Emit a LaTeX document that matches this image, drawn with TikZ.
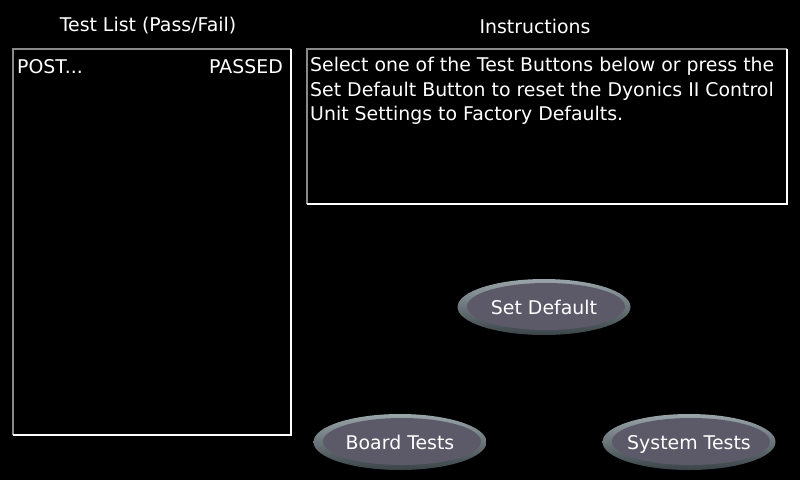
\documentclass[tikz,border=0pt]{standalone}
\usepackage{fontspec}
\setmainfont{DejaVu Sans}
\usetikzlibrary{shapes.geometric}
\definecolor{btnfill}{HTML}{5C5A68}
\definecolor{rimlight}{HTML}{9AA5AA}
\definecolor{rimdark}{HTML}{3A4448}
\definecolor{frameg}{HTML}{8A8A8A}
\tikzset{
  txt/.style={text=white, font=\fontsize{18.9}{24.6}\selectfont, inner sep=0pt},
  btntext/.style={text=white, font=\fontsize{18.9}{22}\selectfont, inner sep=0pt, anchor=base},
  rim/.style={ellipse, minimum width=173pt, minimum height=56pt, inner sep=0pt,
     top color=rimlight, bottom color=rimdark, draw=none},
  face/.style={ellipse, minimum width=158pt, minimum height=47pt, inner sep=0pt,
     fill=btnfill, draw=none},
  darkedge/.style={draw=frameg, line width=2pt},
  lightedge/.style={draw=white, line width=2.5pt}
}
\begin{document}
\begin{tikzpicture}[x=1pt,y=-1pt]
\fill[black] (0,0) rectangle (800,480);
\useasboundingbox (0,0) rectangle (800,480);
% titles
\node[txt] (t1) at (148,26) {Test List (Pass/Fail)};
\node[txt] (t2) at (535,26) {Instructions};
% left box
\coordinate (la) at (13,49);
\coordinate (lb) at (291,435);
\draw[darkedge] (la |- lb) -- (la) -- (la -| lb);
\draw[lightedge] (la -| lb) -- (lb) -- (la |- lb);
% right box
\coordinate (ra) at (307,49);
\coordinate (rb) at (787,204);
\draw[darkedge] (ra |- rb) -- (ra) -- (ra -| rb);
\draw[lightedge] (ra -| rb) -- (rb) -- (ra |- rb);
% list entry
\node[txt, anchor=west] (post) at (17,67) {POST...};
\node[txt, anchor=east] (pass) at (283,67) {PASSED};
% instructions
\node[txt, anchor=north west, align=left] (instr) at (310,57)
  {Select one of the Test Buttons below or press the\\
   Set Default Button to reset the Dyonics II Control\\
   Unit Settings to Factory Defaults.};
% buttons
\node[rim] (r1) at (544,307) {};
\node[face] (f1) at (546,306.5) {};
\node[btntext] (b1) at (544,314) {Set Default};
\node[rim] (r2) at (400,442) {};
\node[face] (f2) at (402,441.5) {};
\node[btntext] (b2) at (400,449) {Board Tests};
\node[rim] (r3) at (689,442) {};
\node[face] (f3) at (691,441.5) {};
\node[btntext] (b3) at (689,449) {System Tests};
\end{tikzpicture}
\end{document}
